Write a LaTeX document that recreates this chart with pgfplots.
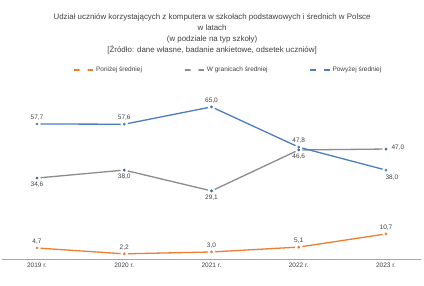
\documentclass[border=0pt]{standalone}
\usepackage{pgfplots}
\pgfplotsset{compat=1.18}
\usepackage{fontspec}
\setmainfont{Liberation Sans}
\definecolor{corange}{HTML}{ED7D31}
\definecolor{cgray}{HTML}{8C8C8C}
\definecolor{cblue}{HTML}{4A7EBF}
\begin{document}
\begin{tikzpicture}[x=1pt,y=1pt]
\path[use as bounding box,fill=white] (-2.1,-26) rectangle (421.9,259);
\node[align=center,font=\fontsize{7.9}{11}\selectfont,text=black!75] at (210,225.5)
 {Udział uczniów korzystających z komputera w szkołach podstawowych i średnich w Polsce\\
  w latach\\
  (w podziale na typ szkoły)\\
  {[}Źródło: dane własne, badanie ankietowe, odsetek uczniów{]}};
\begin{axis}[
  at={(0,0)},anchor=south west,
  scale only axis, width=418.8pt, height=163.8pt,
  xmin=-0.4, xmax=4.4, ymin=0, ymax=70,
  axis y line=none, axis x line*=bottom,
  x axis line style={draw=black!35, line width=0.6pt,-},
  xtick={0,1,2,3,4},
  xticklabels={2019 r.,2020 r.,2021 r.,2022 r.,2023 r.},
  xtick style={draw=none},
  ticklabel style={font=\fontsize{6.5}{8}\selectfont,text=black!75},
  clip=false,
  nodes near coords,
  point meta=explicit symbolic,
  every node near coord/.append style={font=\fontsize{6.5}{8}\selectfont,text=black!75},
  legend columns=3,
  legend style={at={(0.54,1.154)},anchor=center,draw=none,fill=none,
    font=\fontsize{6.5}{8}\selectfont,text=black!75,
    /tikz/every even column/.append style={column sep=40pt}},
  legend cell align=left,
  legend image post style={xscale=1.15},
]
\addplot[corange,line width=1.3pt,mark=*,mark size=3pt,
  mark options={fill=white,draw=white},
  nodes near coords align={above}]
  coordinates {(0,4.7)[4,7] (1,2.2)[2,2] (2,3.0)[3,0] (3,5.1)[5,1] (4,10.7)[10,7]};
\addlegendentry{Poniżej średniej}
\addplot[cgray,line width=1.3pt,mark=*,mark size=3pt,
  mark options={fill=white,draw=white},
  nodes near coords align={below}]
  coordinates {(0,34.6)[34,6] (1,38.0)[38,0] (2,29.1)[29,1] (3,46.6)[46,6] (4,47.0)[]};
\addlegendentry{W granicach średniej}
\addplot[cblue,line width=1.3pt,mark=*,mark size=3pt,
  mark options={fill=white,draw=white},
  nodes near coords align={above}]
  coordinates {(0,57.7)[57,7] (1,57.6)[57,6] (2,65.0)[65,0] (3,47.8)[47,8] (4,38.0)[]};
\addlegendentry{Powyżej średniej}
% inner dots of the markers
\addplot[forget plot,only marks,mark=*,mark size=1.2pt,color=corange,nodes near coords=]
  coordinates {(0,4.7) (1,2.2) (2,3.0) (3,5.1) (4,10.7)};
\addplot[forget plot,only marks,mark=*,mark size=1.2pt,color=cblue!80!black,nodes near coords=]
  coordinates {(0,34.6) (1,38.0) (2,29.1) (3,46.6) (4,47.0)};
\addplot[forget plot,only marks,mark=*,mark size=1.2pt,color=cblue,nodes near coords=]
  coordinates {(0,57.7) (1,57.6) (2,65.0) (3,47.8) (4,38.0)};
% labels at the last category
\addplot[forget plot,draw=none,nodes near coords,
  every node near coord/.append style={anchor=west,xshift=2pt,yshift=1pt}]
  coordinates {(4,47.0)[47,0]};
\addplot[forget plot,draw=none,nodes near coords,
  every node near coord/.append style={anchor=north west,xshift=-4pt,yshift=-1pt}]
  coordinates {(4,38.0)[38,0]};
\end{axis}
\end{tikzpicture}
\end{document}
